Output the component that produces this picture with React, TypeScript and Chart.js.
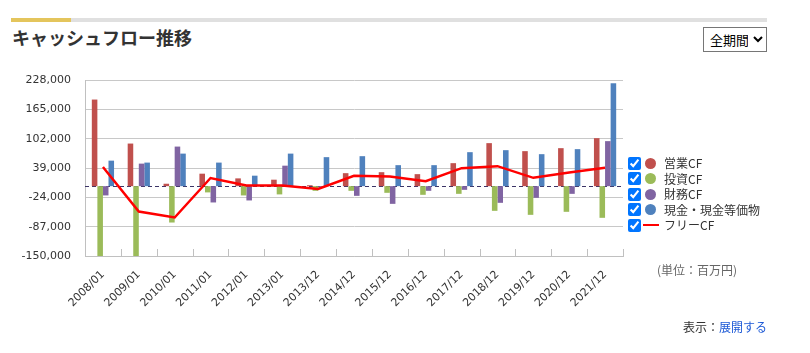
import React, { useEffect, useRef } from "react";
import { Chart, registerables } from "chart.js";

Chart.register(...registerables);

const categories = [
  "2008/01", "2009/01", "2010/01", "2011/01", "2012/01", "2013/01", "2013/12",
  "2014/12", "2015/12", "2016/12", "2017/12", "2018/12", "2019/12", "2020/12", "2021/12",
];
const operatingCF = [186000, 91500, 5200, 26800, 16700, 13900, 2000, 27900, 30000, 25800, 49400, 92400, 75200, 81600, 103100];
const investingCF = [-150000, -150000, -78100, -13400, -19900, -17700, -10000, -10000, -14300, -18600, -16500, -53000, -61600, -55100, -68000];
const financingCF = [-19900, 48400, 85000, -35000, -30700, 44000, -3000, -20800, -38000, -10000, -7900, -35800, -25100, -16500, 96700];
const cashEquivalents = [54800, 50600, 69900, 50600, 22500, 69900, 62300, 64400, 45100, 45100, 73000, 77300, 68700, 79500, 221000];
const freeCF = [41200, -54400, -67300, 17500, 1500, 1500, -6000, 22200, 20800, 10700, 38700, 43000, 17900, 29400, 39400];
const yTickValues = [-150000, -87000, -24000, 39000, 102000, 165000, 228000];

const seriesNames = ["営業CF", "投資CF", "財務CF", "現金・現金等価物", "フリーCF"];
const seriesColors = ["#c0504d", "#9bbb59", "#8064a2", "#4f81bd", "#ff0000"];

const zeroLinePlugin = {
  id: "zeroLine",
  beforeDatasetsDraw(chart: any) {
    const { ctx, chartArea, scales } = chart;
    const y = Math.round(scales.y.getPixelForValue(0)) + 0.5;
    ctx.save();
    ctx.strokeStyle = "#3b3466";
    ctx.lineWidth = 1;
    ctx.setLineDash([4, 3]);
    ctx.beginPath();
    ctx.moveTo(chartArea.left, y);
    ctx.lineTo(chartArea.right, y);
    ctx.stroke();
    ctx.restore();
  },
};

const innerTicksPlugin = {
  id: "innerTicks",
  afterDraw(chart: any) {
    const { ctx, chartArea, scales } = chart;
    const xs = scales.x;
    const n = categories.length;
    const w = (chartArea.right - chartArea.left) / n;
    ctx.save();
    ctx.strokeStyle = "#c0c0c0";
    ctx.lineWidth = 1;
    ctx.beginPath();
    for (let i = 1; i <= n; i++) {
      const x = Math.round(xs.left + i * w) + 0.5;
      ctx.moveTo(x, chartArea.bottom - 7);
      ctx.lineTo(x, chartArea.bottom);
    }
    ctx.stroke();
    ctx.restore();
  },
};

function CashFlowChart() {
  const ref = useRef<HTMLCanvasElement | null>(null);
  useEffect(() => {
    if (!ref.current) return;
    const barData = [operatingCF, investingCF, financingCF, cashEquivalents];
    const chart = new Chart(ref.current, {
      type: "bar",
      data: {
        labels: categories,
        datasets: [
          {
            type: "line",
            label: seriesNames[4],
            data: freeCF,
            borderColor: seriesColors[4],
            backgroundColor: seriesColors[4],
            borderWidth: 2.5,
            pointRadius: 0,
            tension: 0,
            order: 0,
          } as any,
          ...barData.map((d, i) => ({
            type: "bar",
            label: seriesNames[i],
            data: d,
            backgroundColor: seriesColors[i],
            borderWidth: 0,
            categoryPercentage: 0.62,
            barPercentage: 1.0,
            order: 1,
          })),
        ],
      },
      options: {
        responsive: false,
        animation: false,
        maintainAspectRatio: false,
        layout: { padding: { left: 0, top: 80, right: 187, bottom: 37 } },
        plugins: { legend: { display: false }, tooltip: { enabled: false } },
        scales: {
          x: {
            afterFit: (s: any) => { s.height = 60; },
            grid: { display: false },
            border: { display: true, color: "#c0c0c0" },
            ticks: {
              autoSkip: false,
              minRotation: 45,
              maxRotation: 45,
              padding: 4,
              color: "#333333",
              font: { family: "DejaVu Sans", size: 11 },
            },
          },
          y: {
            min: -150000,
            max: 228000,
            afterBuildTicks: (s: any) => { s.ticks = yTickValues.map((v) => ({ value: v })); },
            afterFit: (s: any) => { s.width = 85; },
            grid: { color: "#c8c8c8", drawTicks: false },
            border: { display: true, color: "#c0c0c0" },
            ticks: {
              padding: 14,
              color: "#333333",
              font: { family: "DejaVu Sans", size: 11 },
              callback: (v: any) => Number(v).toLocaleString("en-US"),
            },
          },
        },
      } as any,
      plugins: [zeroLinePlugin, innerTicksPlugin],
    });
    return () => chart.destroy();
  }, []);
  return (
    <canvas
      ref={ref}
      width={810}
      height={353}
      style={{ position: "absolute", left: 0, top: 0, width: 810, height: 353 }}
    />
  );
}

const jp = '"Noto Sans CJK JP", "Noto Sans", sans-serif';

export default function App() {
  const rowTop = 163;
  const rowGap = 15.5;
  return (
    <div style={{ position: "absolute", left: 0, top: 0, width: 810, height: 353, background: "#fff", fontFamily: jp }}>
      <div style={{ position: "absolute", left: 71, top: 18, width: 696, height: 4, background: "#e0e0e0" }} />
      <div style={{ position: "absolute", left: 11, top: 18, width: 60, height: 4, background: "#e4c55c" }} />
      <div style={{ position: "absolute", left: 12, top: 28, fontSize: 18, lineHeight: "18px", fontWeight: "bold", color: "#333", whiteSpace: "nowrap" }}>
        キャッシュフロー推移
      </div>
      <CashFlowChart />
      <select
        defaultValue="all"
        style={{ position: "absolute", left: 703, top: 27, width: 64, height: 25, fontSize: 13, fontFamily: jp, color: "#000", background: "#fff", padding: "0 2px", boxSizing: "border-box" }}
      >
        <option value="all">全期間</option>
      </select>
      {seriesNames.map((name, i) => {
        const cy = rowTop + i * rowGap;
        return (
          <React.Fragment key={name}>
            <input
              type="checkbox"
              checked
              readOnly
              style={{ position: "absolute", left: 628, top: cy - 6.5, width: 13, height: 13, margin: 0 }}
            />
            {i < 4 ? (
              <div style={{ position: "absolute", left: 645, top: cy - 5.5, width: 11, height: 11, borderRadius: "50%", background: seriesColors[i] }} />
            ) : (
              <div style={{ position: "absolute", left: 643, top: cy - 1, width: 16, height: 2, background: seriesColors[i] }} />
            )}
            <div style={{ position: "absolute", left: 664, top: cy - 8, fontSize: 12, lineHeight: "16px", color: "#333", whiteSpace: "nowrap" }}>
              {name}
            </div>
          </React.Fragment>
        );
      })}
      <div style={{ position: "absolute", left: 657, top: 262, fontSize: 12, lineHeight: "16px", color: "#666", whiteSpace: "nowrap" }}>
        (単位：百万円)
      </div>
      <div style={{ position: "absolute", right: 43, top: 319, fontSize: 12, lineHeight: "16px", color: "#333", whiteSpace: "nowrap" }}>
        表示：<span style={{ color: "#1e5ad6" }}>展開する</span>
      </div>
    </div>
  );
}
